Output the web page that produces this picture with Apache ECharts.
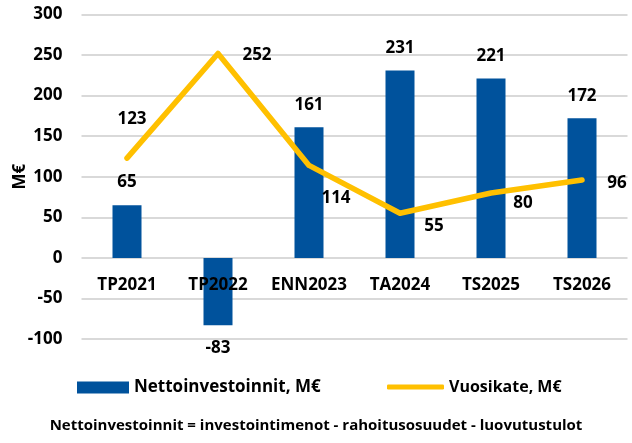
<!DOCTYPE html>
<html>
<head>
<meta charset="utf-8">
<script src="https://cdn.jsdelivr.net/npm/echarts@6/dist/echarts.min.js"></script>
<style>
  html, body { margin: 0; padding: 0; background: #fff; }
  #chart { width: 632px; height: 443px; }
</style>
</head>
<body>
<div id="chart"></div>
<script>
var categories = ["TP2021", "TP2022", "ENN2023", "TA2024", "TS2025", "TS2026"];
var nettoinvestoinnit = [65, -83, 161, 231, 221, 172];
var vuosikate = [123, 252, 114, 55, 80, 96];
// label offsets for the line points, as in the original chart
var lineLabelOffsets = [[5, -39], [39, 2], [27, 33], [34, 13], [32, 10], [35, 3]];

var font = "'Open Sans', 'Noto Sans', sans-serif";
var blue = "#00529c";
var yellow = "#ffc000";

var chart = echarts.init(document.getElementById("chart"));

var lineData = vuosikate.map(function (v, i) {
	return {
		value: v,
		label: { offset: lineLabelOffsets[i] }
	};
});

var barData = nettoinvestoinnit.map(function (v) {
	return {
		value: v,
		label: { position: v < 0 ? "bottom" : "top" }
	};
});

chart.setOption({
	animation: false,
	textStyle: { fontFamily: font },
	grid: {
		left: 81.5,
		right: 4.5,
		top: 14.5,
		bottom: 104,
		outerBoundsMode: "none"
	},
	legend: [
		{
			data: ["Nettoinvestoinnit, M€"],
			left: 77,
			top: 379,
			padding: 0,
			itemWidth: 52,
			itemHeight: 12,
			icon: "rect",
			textStyle: { fontFamily: font, fontSize: 17, fontWeight: "bold", color: "#000" }
		},
		{
			data: [{ name: "Vuosikate, M€", icon: "roundRect" }],
			left: 387,
			top: 379,
			padding: 0,
			itemWidth: 57,
			itemHeight: 5,
			textStyle: { fontFamily: font, fontSize: 16, fontWeight: "bold", color: "#000" }
		}
	],
	graphic: [{
		type: "text",
		left: "center",
		top: 418,
		style: {
			text: "Nettoinvestoinnit = investointimenot - rahoitusosuudet - luovutustulot",
			font: "bold 15px " + font,
			fill: "#000"
		}
	}],
	xAxis: {
		type: "category",
		data: categories,
		position: "bottom",
		offset: -81,
		z: 10,
		axisLine: { show: false, onZero: false },
		axisTick: { show: false },
		axisLabel: {
			interval: 0,
			margin: 19,
			fontSize: 17,
			fontWeight: "bold",
			color: "#000",
			fontFamily: font
		}
	},
	yAxis: {
		type: "value",
		min: -100,
		max: 300,
		interval: 50,
		name: "M€",
		nameLocation: "middle",
		nameRotate: 90,
		nameGap: 53,
		nameMoveOverlap: false,
		nameTextStyle: { fontSize: 17, fontWeight: "bold", color: "#000", fontFamily: font },
		axisLine: { show: false },
		axisTick: { show: false },
		axisLabel: {
			margin: 19,
			fontSize: 17,
			fontWeight: "bold",
			color: "#000",
			fontFamily: font
		},
		splitLine: { lineStyle: { color: "#d9d9d9", width: 2 } }
	},
	series: [
		{
			name: "Nettoinvestoinnit, M€",
			type: "bar",
			data: barData,
			barWidth: 29,
			itemStyle: { color: blue },
			label: {
				show: true,
				distance: 14,
				fontSize: 17,
				fontWeight: "bold",
				color: "#000",
				fontFamily: font
			}
		},
		{
			name: "Vuosikate, M€",
			type: "line",
			data: lineData,
			symbol: "circle",
			symbolSize: 1,
			showSymbol: true,
			itemStyle: { color: yellow },
			lineStyle: { color: yellow, width: 5.5, cap: "round", join: "round" },
			label: {
				show: true,
				position: "inside",
				fontSize: 17,
				fontWeight: "bold",
				color: "#000",
				fontFamily: font
			}
		}
	]
});
</script>
</body>
</html>
